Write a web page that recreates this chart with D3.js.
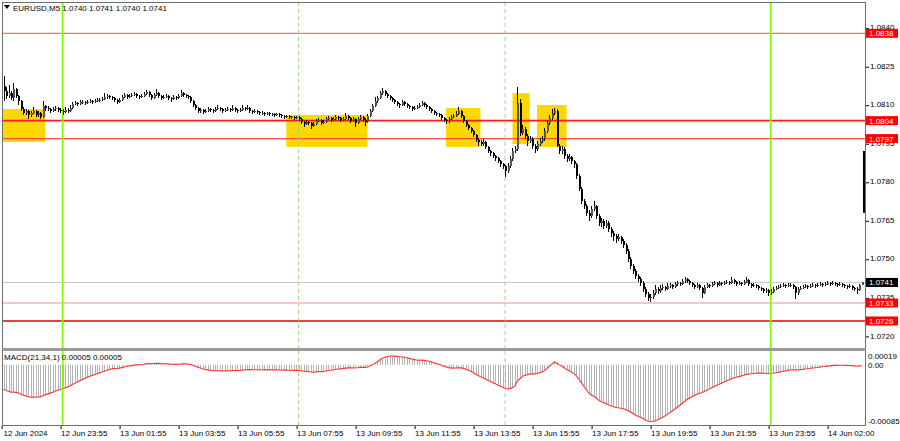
<!DOCTYPE html>
<html><head><meta charset="utf-8">
<script src="https://cdn.jsdelivr.net/npm/d3@7"></script>
<style>
body{margin:0;background:#fff}
text{font-family:"Liberation Sans",Arial,sans-serif;}
</style>
</head><body>
<svg id="c" width="900" height="441"></svg>
<script>
// ---------------- DATA ----------------
const titleText = "EURUSD,M5  1.0740 1.0741 1.0740 1.0741";
const macdTitle = "MACD(21,34,1) 0.00005 0.00005";
const firstOpen = 1.08175;
const close = [
1.08155,1.08136,1.08147,1.08128,1.08163,1.08136,1.08116,1.08085,1.08070,1.08077,
1.08062,1.08070,1.08077,1.08062,1.08070,1.08054,1.08097,1.08089,1.08085,1.08077,
1.08085,1.08089,1.08081,1.08077,1.08073,1.08081,1.08077,1.08089,1.08105,1.08109,
1.08105,1.08112,1.08112,1.08109,1.08112,1.08116,1.08112,1.08116,1.08120,1.08120,
1.08124,1.08132,1.08136,1.08132,1.08128,1.08120,1.08112,1.08120,1.08132,1.08140,
1.08132,1.08136,1.08140,1.08143,1.08136,1.08132,1.08136,1.08143,1.08151,1.08140,
1.08128,1.08140,1.08147,1.08136,1.08128,1.08132,1.08136,1.08128,1.08124,1.08132,
1.08128,1.08136,1.08147,1.08140,1.08136,1.08132,1.08116,1.08101,1.08089,1.08077,
1.08081,1.08073,1.08077,1.08085,1.08081,1.08077,1.08085,1.08089,1.08085,1.08077,
1.08081,1.08085,1.08081,1.08089,1.08081,1.08077,1.08081,1.08089,1.08085,1.08089,
1.08077,1.08073,1.08077,1.08073,1.08070,1.08070,1.08066,1.08070,1.08066,1.08066,
1.08062,1.08066,1.08062,1.08058,1.08054,1.08058,1.08054,1.08054,1.08050,1.08054,
1.08046,1.08035,1.08027,1.08035,1.08031,1.08019,1.08027,1.08039,1.08042,1.08031,
1.08035,1.08046,1.08050,1.08042,1.08046,1.08054,1.08050,1.08042,1.08046,1.08058,
1.08050,1.08039,1.08046,1.08031,1.08046,1.08054,1.08042,1.08035,1.08058,1.08077,
1.08097,1.08116,1.08128,1.08147,1.08155,1.08143,1.08136,1.08128,1.08120,1.08112,
1.08105,1.08101,1.08112,1.08105,1.08097,1.08093,1.08085,1.08089,1.08093,1.08101,
1.08109,1.08101,1.08093,1.08085,1.08077,1.08070,1.08066,1.08062,1.08050,1.08042,
1.08039,1.08046,1.08054,1.08058,1.08066,1.08077,1.08058,1.08039,1.08023,1.08011,
1.08000,1.07984,1.07965,1.07957,1.07949,1.07957,1.07938,1.07922,1.07914,1.07903,
1.07895,1.07883,1.07871,1.07864,1.07844,1.07864,1.07891,1.07922,1.07930,1.08109,
1.07992,1.08007,1.07980,1.07961,1.07969,1.07941,1.07930,1.07949,1.07961,1.07969,
1.08000,1.08031,1.08050,1.08070,1.08077,1.07941,1.07922,1.07930,1.07903,1.07891,
1.07899,1.07883,1.07871,1.07825,1.07774,1.07728,1.07708,1.07681,1.07670,1.07697,
1.07708,1.07670,1.07642,1.07650,1.07631,1.07642,1.07619,1.07604,1.07592,1.07580,
1.07588,1.07572,1.07557,1.07534,1.07503,1.07475,1.07456,1.07436,1.07425,1.07409,
1.07386,1.07366,1.07351,1.07355,1.07370,1.07386,1.07378,1.07390,1.07393,1.07386,
1.07397,1.07401,1.07393,1.07405,1.07409,1.07405,1.07417,1.07425,1.07417,1.07409,
1.07401,1.07393,1.07401,1.07390,1.07370,1.07393,1.07401,1.07397,1.07405,1.07409,
1.07401,1.07409,1.07405,1.07409,1.07413,1.07409,1.07421,1.07413,1.07405,1.07409,
1.07405,1.07413,1.07421,1.07405,1.07397,1.07401,1.07397,1.07390,1.07386,1.07378,
1.07382,1.07370,1.07374,1.07386,1.07390,1.07393,1.07397,1.07401,1.07397,1.07401,
1.07401,1.07393,1.07370,1.07386,1.07390,1.07393,1.07397,1.07393,1.07397,1.07401,
1.07397,1.07401,1.07405,1.07401,1.07405,1.07409,1.07405,1.07409,1.07405,1.07401,
1.07405,1.07401,1.07397,1.07393,1.07397,1.07390,1.07386,1.07382,1.07400,1.07410];
const high = [
1.08213,1.08171,1.08179,1.08155,1.08186,1.08167,1.08140,1.08120,1.08093,1.08085,
1.08081,1.08077,1.08093,1.08081,1.08077,1.08073,1.08116,1.08101,1.08097,1.08089,
1.08093,1.08097,1.08093,1.08089,1.08085,1.08093,1.08089,1.08101,1.08112,1.08116,
1.08112,1.08120,1.08120,1.08116,1.08120,1.08124,1.08120,1.08124,1.08128,1.08128,
1.08132,1.08147,1.08143,1.08140,1.08136,1.08132,1.08124,1.08128,1.08140,1.08147,
1.08143,1.08143,1.08147,1.08151,1.08147,1.08140,1.08143,1.08151,1.08159,1.08155,
1.08143,1.08147,1.08163,1.08151,1.08140,1.08140,1.08143,1.08140,1.08132,1.08140,
1.08136,1.08143,1.08159,1.08151,1.08143,1.08140,1.08136,1.08120,1.08105,1.08093,
1.08089,1.08085,1.08085,1.08093,1.08089,1.08085,1.08093,1.08101,1.08093,1.08089,
1.08089,1.08093,1.08089,1.08101,1.08093,1.08085,1.08089,1.08101,1.08093,1.08101,
1.08093,1.08081,1.08085,1.08081,1.08077,1.08077,1.08073,1.08073,1.08073,1.08070,
1.08070,1.08070,1.08070,1.08066,1.08062,1.08062,1.08062,1.08058,1.08058,1.08058,
1.08058,1.08050,1.08039,1.08042,1.08039,1.08035,1.08035,1.08046,1.08050,1.08046,
1.08042,1.08054,1.08058,1.08054,1.08054,1.08062,1.08058,1.08054,1.08054,1.08070,
1.08062,1.08054,1.08054,1.08050,1.08054,1.08062,1.08058,1.08050,1.08066,1.08085,
1.08105,1.08132,1.08136,1.08155,1.08167,1.08159,1.08147,1.08140,1.08132,1.08124,
1.08116,1.08109,1.08120,1.08116,1.08109,1.08101,1.08097,1.08097,1.08101,1.08109,
1.08116,1.08112,1.08105,1.08097,1.08089,1.08081,1.08073,1.08070,1.08066,1.08054,
1.08046,1.08054,1.08062,1.08066,1.08077,1.08093,1.08081,1.08062,1.08042,1.08027,
1.08015,1.08004,1.07988,1.07973,1.07965,1.07969,1.07961,1.07941,1.07926,1.07918,
1.07907,1.07899,1.07887,1.07875,1.07868,1.07875,1.07903,1.07934,1.07941,1.08171,
1.08124,1.08023,1.08015,1.07988,1.07980,1.07976,1.07949,1.07961,1.07973,1.07980,
1.08011,1.08042,1.08062,1.08085,1.08089,1.08085,1.07949,1.07941,1.07938,1.07910,
1.07910,1.07903,1.07887,1.07875,1.07833,1.07782,1.07736,1.07716,1.07693,1.07708,
1.07728,1.07712,1.07677,1.07662,1.07658,1.07654,1.07650,1.07627,1.07611,1.07600,
1.07600,1.07592,1.07580,1.07565,1.07541,1.07510,1.07483,1.07464,1.07444,1.07433,
1.07417,1.07393,1.07374,1.07366,1.07382,1.07401,1.07393,1.07401,1.07405,1.07397,
1.07409,1.07409,1.07405,1.07413,1.07417,1.07413,1.07425,1.07433,1.07429,1.07421,
1.07413,1.07405,1.07409,1.07405,1.07393,1.07401,1.07409,1.07405,1.07413,1.07417,
1.07413,1.07417,1.07413,1.07417,1.07421,1.07417,1.07433,1.07425,1.07417,1.07417,
1.07413,1.07421,1.07433,1.07425,1.07409,1.07409,1.07405,1.07401,1.07393,1.07390,
1.07390,1.07386,1.07386,1.07393,1.07397,1.07401,1.07405,1.07409,1.07405,1.07409,
1.07409,1.07405,1.07397,1.07393,1.07397,1.07401,1.07405,1.07401,1.07405,1.07409,
1.07405,1.07409,1.07413,1.07409,1.07413,1.07417,1.07413,1.07417,1.07413,1.07409,
1.07413,1.07409,1.07405,1.07401,1.07405,1.07401,1.07393,1.07393,1.07405,1.07410];
const low = [
1.08116,1.08124,1.08128,1.08120,1.08116,1.08128,1.08101,1.08077,1.08062,1.08062,
1.08046,1.08054,1.08066,1.08054,1.08054,1.08046,1.08050,1.08077,1.08077,1.08070,
1.08073,1.08077,1.08073,1.08070,1.08062,1.08070,1.08070,1.08073,1.08085,1.08101,
1.08097,1.08101,1.08105,1.08101,1.08105,1.08109,1.08105,1.08109,1.08112,1.08112,
1.08116,1.08120,1.08124,1.08124,1.08120,1.08112,1.08105,1.08109,1.08116,1.08128,
1.08124,1.08128,1.08132,1.08136,1.08128,1.08124,1.08128,1.08132,1.08140,1.08132,
1.08120,1.08124,1.08136,1.08128,1.08120,1.08124,1.08128,1.08120,1.08112,1.08120,
1.08120,1.08124,1.08132,1.08132,1.08128,1.08124,1.08109,1.08093,1.08081,1.08070,
1.08070,1.08066,1.08070,1.08073,1.08073,1.08070,1.08073,1.08081,1.08077,1.08070,
1.08073,1.08077,1.08073,1.08077,1.08073,1.08070,1.08073,1.08077,1.08077,1.08081,
1.08070,1.08066,1.08070,1.08066,1.08062,1.08062,1.08058,1.08062,1.08058,1.08058,
1.08054,1.08058,1.08054,1.08050,1.08046,1.08050,1.08046,1.08046,1.08042,1.08046,
1.08039,1.08027,1.08015,1.08023,1.08023,1.08007,1.08015,1.08023,1.08035,1.08023,
1.08027,1.08031,1.08042,1.08035,1.08039,1.08042,1.08042,1.08035,1.08039,1.08042,
1.08042,1.08031,1.08035,1.08015,1.08027,1.08042,1.08035,1.08019,1.08031,1.08054,
1.08073,1.08093,1.08109,1.08124,1.08140,1.08136,1.08128,1.08120,1.08112,1.08105,
1.08097,1.08089,1.08097,1.08097,1.08089,1.08085,1.08077,1.08081,1.08085,1.08089,
1.08097,1.08093,1.08085,1.08077,1.08070,1.08062,1.08058,1.08054,1.08042,1.08035,
1.08027,1.08031,1.08042,1.08050,1.08054,1.08062,1.08050,1.08031,1.08015,1.08004,
1.07992,1.07976,1.07957,1.07941,1.07941,1.07941,1.07930,1.07914,1.07903,1.07895,
1.07883,1.07875,1.07860,1.07852,1.07821,1.07837,1.07856,1.07883,1.07914,1.07922,
1.07980,1.07984,1.07969,1.07941,1.07953,1.07930,1.07914,1.07922,1.07941,1.07953,
1.07961,1.07992,1.08023,1.08042,1.08062,1.07938,1.07910,1.07910,1.07891,1.07879,
1.07883,1.07871,1.07856,1.07813,1.07767,1.07716,1.07697,1.07670,1.07650,1.07662,
1.07689,1.07658,1.07631,1.07627,1.07619,1.07623,1.07607,1.07588,1.07572,1.07565,
1.07572,1.07561,1.07545,1.07522,1.07491,1.07464,1.07444,1.07425,1.07413,1.07397,
1.07374,1.07355,1.07339,1.07335,1.07347,1.07362,1.07366,1.07370,1.07382,1.07378,
1.07382,1.07390,1.07386,1.07390,1.07397,1.07397,1.07401,1.07409,1.07409,1.07401,
1.07393,1.07386,1.07390,1.07382,1.07351,1.07366,1.07390,1.07390,1.07393,1.07401,
1.07393,1.07397,1.07397,1.07401,1.07405,1.07401,1.07405,1.07405,1.07397,1.07401,
1.07397,1.07401,1.07409,1.07397,1.07390,1.07393,1.07390,1.07382,1.07378,1.07370,
1.07370,1.07359,1.07362,1.07370,1.07382,1.07386,1.07390,1.07393,1.07390,1.07393,
1.07393,1.07386,1.07347,1.07362,1.07382,1.07386,1.07390,1.07386,1.07390,1.07393,
1.07390,1.07393,1.07397,1.07393,1.07397,1.07401,1.07397,1.07401,1.07397,1.07393,
1.07397,1.07393,1.07390,1.07386,1.07390,1.07382,1.07378,1.07366,1.07378,1.07400];

// price axis ticks and marked levels
const priceTicks = [1.0720,1.0735,1.0750,1.0765,1.0780,1.0795,1.0810,1.0825,1.0840];
const levelPrices = [1.0838,1.0804,1.0797,1.0733,1.0726];
const currentPrice = 1.0741;
// highlighted zones: [startBar, endBar] and [topPrice, bottomPrice]
const zoneBars = [[-1,17],[115,148],[180,194],[207,214],[217,229]];
const zonePrices = [[1.08085,1.07957],[1.08062,1.07938],[1.08089,1.07938],[1.08147,1.07949],[1.08101,1.07938]];
// vertical markers (bar indices)
const greenLineBars = [24,312];
const dashedLineBars = [120,204];
// time axis
const timeTickBars = [0,24,48,72,96,120,144,168,192,216,240,264,288,312,336];
const timeTickLabels = ["12 Jun 2024","12 Jun 23:55","13 Jun 01:55","13 Jun 03:55","13 Jun 05:55","13 Jun 07:55","13 Jun 09:55","13 Jun 11:55","13 Jun 13:55","13 Jun 15:55","13 Jun 17:55","13 Jun 19:55","13 Jun 21:55","13 Jun 23:55","14 Jun 02:00"];
// MACD
const macdPeriods = [21,34,1];
const emaSeed = [1.08260,1.08293];
const macdTicks = [0.00019,0.00,-0.00085];
const macdTickLabels = ["0.00019","0.00","-0.00085"];
// stray tall bar at the right border: [barIndex, top price, bottom price]
const edgeBar = [350, 1.07922, 1.07681];

// ---------------- LAYOUT ----------------
const L = 2, R = 866, T = 2, MB = 348, MT = 351, MBot = 426;
const svg = d3.select("#c");
svg.append("rect").attr("width",900).attr("height",441).attr("fill","#fff");
const defs = svg.append("defs");
defs.append("clipPath").attr("id","cm").append("rect").attr("x",L).attr("y",T).attr("width",R-L).attr("height",MB-T);
defs.append("clipPath").attr("id","cd").append("rect").attr("x",L).attr("y",MT).attr("width",R-L).attr("height",MBot-MT);

const n = close.length;
const x = d3.scaleLinear().domain([0, n-1]).range([3.6, 3.6 + 2.4583*(n-1)]);
const y = d3.scaleLinear().domain([1.0726, 1.0838]).range([321, 33.3]);
const ym = d3.scaleLinear().domain([-0.00085, 0.00019]).range([424.5, 351.5]);

const open = close.map((c,i)=> i===0 ? firstOpen : close[i-1]);

const gMain = svg.append("g").attr("clip-path","url(#cm)");
// zones
gMain.selectAll("rect.zone").data(zoneBars).join("rect")
  .attr("x", d=>x(d[0])).attr("width", d=>x(d[1])-x(d[0]))
  .attr("y", (d,i)=>y(zonePrices[i][0])).attr("height",(d,i)=>y(zonePrices[i][1])-y(zonePrices[i][0]))
  .attr("fill","#ffd700");
// current price line
gMain.append("line").attr("x1",L).attr("x2",R).attr("y1",y(currentPrice)).attr("y2",y(currentPrice))
  .attr("stroke","#c8c8c8").attr("stroke-width",1);
// levels
const levelColors = ["#ff4a4a","#ff1a1a","#ff4a4a","#ff8c8c","#e60000"];
const levelWidths = [1,1.6,1.2,1.2,1.4];
gMain.selectAll("line.lvl").data(levelPrices).join("line")
  .attr("x1",L).attr("x2",R).attr("y1",d=>y(d)).attr("y2",d=>y(d))
  .attr("stroke",(d,i)=>levelColors[i]).attr("stroke-width",(d,i)=>levelWidths[i]);

// vertical lines (both panels)
function vlines(g, bars, top, bottom, dashed){
  g.selectAll(null).data(bars).join("line")
    .attr("x1",d=>x(d)).attr("x2",d=>x(d)).attr("y1",top).attr("y2",bottom)
    .attr("stroke", dashed ? "#9ed77a" : "#7cfc00").attr("stroke-width", dashed?1:1.6)
    .attr("stroke-dasharray", dashed ? "4,3" : null);
}
vlines(gMain, dashedLineBars, T, MB, true);
vlines(gMain, greenLineBars, T, MB, false);

// candles
const cg = gMain.append("g").attr("shape-rendering","crispEdges");
cg.selectAll("line.wick").data(close).join("line")
  .attr("x1",(d,i)=>Math.round(x(i))+0.5).attr("x2",(d,i)=>Math.round(x(i))+0.5)
  .attr("y1",(d,i)=>y(Math.max(high[i],open[i],d))).attr("y2",(d,i)=>y(Math.min(low[i],open[i],d)))
  .attr("stroke","#000").attr("stroke-width",1);
cg.selectAll("rect.body").data(close).join("rect")
  .attr("x",(d,i)=>Math.round(x(i))).attr("width",2)
  .attr("y",(d,i)=>y(Math.max(open[i],d))).attr("height",(d,i)=>Math.max(1,Math.abs(y(open[i])-y(d))))
  .attr("fill",(d,i)=> d<open[i] ? "#000" : "#555");
// edge bar
svg.append("rect").attr("x",x(edgeBar[0])-1).attr("width",2)
  .attr("y",y(edgeBar[1])).attr("height",y(edgeBar[2])-y(edgeBar[1])).attr("fill","#000");

// ---------------- MACD ----------------
const fa = 2/(macdPeriods[0]+1), sa = 2/(macdPeriods[1]+1);
let e1 = emaSeed[0], e2 = emaSeed[1];
const macd = close.map(c=>{ e1 += fa*(c-e1); e2 += sa*(c-e2); return e1-e2; });
const signal = macd.map((v,i)=> d3.mean(macd.slice(Math.max(0,i-macdPeriods[2]+1), i+1)));
const gM = svg.append("g").attr("clip-path","url(#cd)");
gM.selectAll("line.h").data(macd).join("line")
  .attr("x1",(d,i)=>Math.round(x(i))+0.5).attr("x2",(d,i)=>Math.round(x(i))+0.5)
  .attr("y1",ym(0)).attr("y2",d=>ym(d))
  .attr("stroke","#b4b4b4").attr("stroke-width",1);
gM.append("path").datum(signal)
  .attr("d", d3.line().x((d,i)=>x(i)).y(d=>ym(d)))
  .attr("fill","none").attr("stroke","#ff3030").attr("stroke-width",1.1);
vlines(gM, dashedLineBars, MT, MBot, true);
vlines(gM, greenLineBars, MT, MBot, false);
svg.append("text").attr("x",4).attr("y",360).attr("font-size",8).attr("fill","#000").text(macdTitle);

// ---------------- FRAME ----------------
svg.append("rect").attr("x",L+0.5).attr("y",T+0.5).attr("width",R-L-1).attr("height",MBot-T-1)
  .attr("fill","none").attr("stroke","#6e6e6e");
svg.append("rect").attr("x",L).attr("y",MB).attr("width",R-L).attr("height",MT-MB).attr("fill","#9a9a9a");

// ---------------- AXES ----------------
const ay = d3.axisRight(y).tickValues(priceTicks).tickFormat(d3.format(".4f")).tickSize(3).tickPadding(1);
const gy = svg.append("g").attr("transform",`translate(${R},0)`).call(ay);
gy.select(".domain").remove();
gy.selectAll("text").attr("font-size",8).attr("fill","#000").attr("font-family","Liberation Sans, Arial, sans-serif")
  .attr("dy","0.2em");
gy.selectAll("line").attr("stroke","#000");

// tags
const tags = svg.append("g");
tags.selectAll("rect").data(levelPrices).join("rect")
  .attr("x",R).attr("y",d=>y(d)-4.5).attr("width",32).attr("height",9).attr("fill","#ff0000");
tags.selectAll("text").data(levelPrices).join("text")
  .attr("x",R+3).attr("y",d=>y(d)+3).attr("font-size",8).attr("fill","#fff").text(d=>d3.format(".4f")(d));
tags.append("rect").attr("x",R).attr("y",y(currentPrice)-4.5).attr("width",32).attr("height",9).attr("fill","#000");
tags.append("text").attr("x",R+3).attr("y",y(currentPrice)+3).attr("font-size",8).attr("fill","#fff").text(d3.format(".4f")(currentPrice));

// MACD axis
const am = d3.axisRight(ym).tickValues(macdTicks).tickFormat((d,i)=>macdTickLabels[i]).tickSize(0).tickPadding(2);
const gm = svg.append("g").attr("transform",`translate(${R},0)`).call(am);
gm.select(".domain").remove();
gm.selectAll("text").attr("font-size",8).attr("fill","#000").attr("font-family","Liberation Sans, Arial, sans-serif")
  .attr("dy",(d,i)=> i===0 ? "0.9em" : (i===2 ? "-0.1em" : "0.32em"));

// time axis
const ax = d3.axisBottom(x).tickValues(timeTickBars).tickFormat((d,i)=>timeTickLabels[i]).tickSize(3).tickPadding(0);
const gx = svg.append("g").attr("transform",`translate(0,${MBot})`).call(ax);
gx.select(".domain").remove();
gx.selectAll("line").attr("stroke","#000").attr("transform","translate(-2,0)");
gx.selectAll("text").attr("font-size",8).attr("fill","#000").attr("font-family","Liberation Sans, Arial, sans-serif")
  .attr("text-anchor","start").attr("dy",null).attr("y",10)
  .attr("x",(d)=> Math.max(3-x(d), -2));

// title
svg.append("path").attr("d","M4,5 L10,5 L7,9 Z").attr("fill","#000");
svg.append("text").attr("x",13).attr("y",11).attr("font-size",8).attr("fill","#000").text(titleText);
</script>
</body></html>
